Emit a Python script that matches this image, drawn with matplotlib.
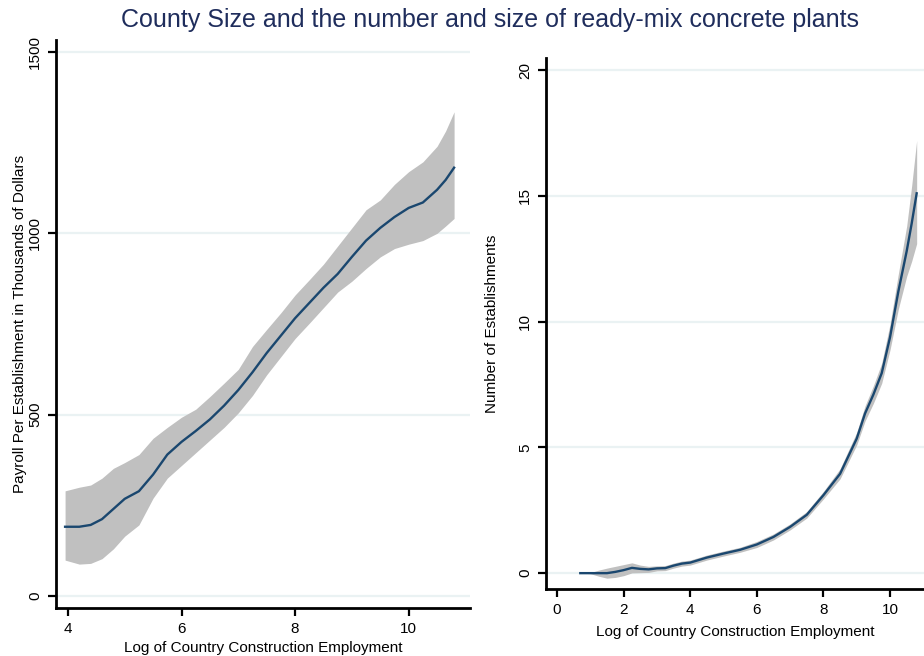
import matplotlib
matplotlib.use("Agg")
import matplotlib.pyplot as plt

plt.rcParams['font.family'] = ['Liberation Sans', 'DejaVu Sans']

title = "County Size and the number and size of ready-mix concrete plants"
xlabel = "Log of Country Construction Employment"
left_ylabel = "Payroll Per Establishment in Thousands of Dollars"
right_ylabel = "Number of Establishments"

# Left panel: payroll per establishment (local fit with confidence band)
left_x = [3.95, 4.2, 4.4, 4.6, 4.8, 5.0, 5.25, 5.5, 5.75, 6.0, 6.25, 6.5, 6.75, 7.0, 7.25,
          7.5, 7.75, 8.0, 8.25, 8.5, 8.75, 9.0, 9.25, 9.5, 9.75, 10.0, 10.25, 10.5, 10.65, 10.8]
left_mean = [191, 191, 196, 212, 240, 268, 289, 335, 390, 425, 455, 487, 525, 568, 617,
             670, 718, 766, 808, 850, 888, 935, 980, 1015, 1045, 1070, 1085, 1120, 1147, 1181]
left_hi = [290, 300, 306, 325, 352, 368, 390, 435, 465, 493, 515, 550, 587, 625, 688,
           735, 781, 830, 872, 915, 965, 1015, 1065, 1092, 1135, 1170, 1197, 1240, 1282, 1335]
left_lo = [99, 88, 90, 103, 130, 165, 196, 270, 325, 360, 395, 430, 465, 505, 553,
           610, 660, 710, 752, 795, 838, 868, 903, 935, 958, 970, 980, 1000, 1020, 1041]
left_yticks = [0, 500, 1000, 1500]
left_xticks = [4, 6, 8, 10]

# Right panel: number of establishments
right_x = [0.7, 1.0, 1.25, 1.5, 1.75, 2.0, 2.25, 2.5, 2.75, 3.0, 3.25, 3.5, 3.75, 4.0, 4.5,
           5.0, 5.5, 6.0, 6.5, 7.0, 7.5, 8.0, 8.5, 9.0, 9.25, 9.5, 9.75, 10.0, 10.25, 10.5,
           10.65, 10.8]
right_mean = [0, 0, 0, 0, 0.05, 0.12, 0.21, 0.17, 0.15, 0.19, 0.2, 0.3, 0.38, 0.42, 0.62,
              0.78, 0.93, 1.14, 1.44, 1.84, 2.32, 3.10, 3.95, 5.35, 6.35, 7.1, 7.95, 9.38,
              11.2, 12.8, 13.9, 15.1]
right_hi = [0, 0.02, 0.12, 0.2, 0.27, 0.34, 0.41, 0.32, 0.27, 0.29, 0.3, 0.4, 0.48, 0.52, 0.72,
            0.88, 1.03, 1.26, 1.56, 1.96, 2.45, 3.25, 4.15, 5.6, 6.65, 7.45, 8.35, 9.9,
            11.9, 13.8, 15.4, 17.2]
right_lo = [0, -0.02, -0.12, -0.2, -0.17, -0.1, 0.01, 0.02, 0.03, 0.09, 0.1, 0.2, 0.28, 0.32, 0.52,
            0.68, 0.83, 1.02, 1.32, 1.72, 2.19, 2.95, 3.75, 5.1, 6.05, 6.75, 7.55, 8.88,
            10.5, 11.8, 12.4, 13.1]
right_yticks = [0, 5, 10, 15, 20]
right_xticks = [0, 2, 4, 6, 8, 10]

LINE = "#1a476f"
BAND = "#c0c0c0"
GRID = "#eaf2f3"
TITLE_COLOR = "#1f2d5c"
FS = 11

fig = plt.figure(figsize=(9.24, 6.56), dpi=100)
fig.patch.set_facecolor("white")

axL = fig.add_axes([56/924, 1-608/656, (470-56)/924, (608-40)/656])
axR = fig.add_axes([546/924, 1-589/656, (924-546)/924, (589-58)/656])


def style(ax):
    for s in ["top", "right"]:
        ax.spines[s].set_visible(False)
    for s in ["left", "bottom"]:
        ax.spines[s].set_linewidth(2.0)
        ax.spines[s].set_color("black")
    ax.tick_params(axis="both", direction="out", length=6, width=1.6, labelsize=FS,
                   colors="black", pad=4)
    ax.tick_params(axis="y", labelrotation=90)
    ax.grid(axis="y", color=GRID, linewidth=1.6)
    ax.set_axisbelow(True)


axL.fill_between(left_x, left_lo, left_hi, color=BAND, linewidth=0, zorder=2)
axL.plot(left_x, left_mean, color=LINE, linewidth=1.7, zorder=3)
axL.set_xlim(3.79, 11.08)
axL.set_ylim(-33, 1533)
axL.set_xticks(left_xticks)
axL.set_yticks(left_yticks)
style(axL)
for lab in axL.get_yticklabels():
    lab.set_va("center")
axL.set_xlabel(xlabel, fontsize=FS, labelpad=4)
axL.set_ylabel(left_ylabel, fontsize=FS, labelpad=1)

axR.fill_between(right_x, right_lo, right_hi, color=BAND, linewidth=0, zorder=2)
axR.plot(right_x, right_mean, color=LINE, linewidth=1.7, zorder=3)
axR.set_xlim(-0.33, 11.02)
axR.set_ylim(-0.63, 20.48)
axR.set_xticks(right_xticks)
axR.set_yticks(right_yticks)
style(axR)
for lab in axR.get_yticklabels():
    lab.set_va("center")
axR.set_xlabel(xlabel, fontsize=FS, labelpad=6)
axR.set_ylabel(right_ylabel, fontsize=FS, labelpad=14)

fig.text(490/924, 1-20/656, title, ha="center", va="center", fontsize=18, color=TITLE_COLOR)

fig.savefig("out.png", dpi=100)
